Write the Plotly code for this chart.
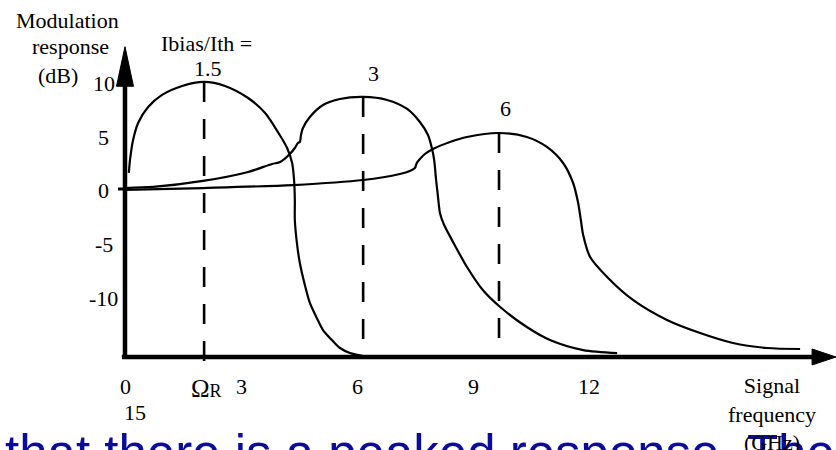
import plotly.graph_objects as go

# ---- curve data: signal frequency (GHz) vs modulation response (dB) ----
# Ibias/Ith = 1.5
freq_15 = [0.10, 0.13, 0.21, 0.34, 0.60, 0.96, 1.48, 2.05, 2.59, 3.19, 3.63, 3.96,
           4.20, 4.33, 4.38, 4.40, 4.40, 4.46, 4.53, 4.66, 4.79, 4.97, 5.13, 5.36,
           5.57, 5.83, 6.17]
resp_15 = [1.50, 2.71, 4.58, 6.17, 7.66, 8.79, 9.63, 10.0, 9.63, 8.50, 7.10, 5.33,
           3.83, 2.43, 0.84, -1.03, -2.90, -5.23, -6.92, -8.97, -10.65, -12.06,
           -13.18, -14.11, -14.86, -15.33, -15.61]

# Ibias/Ith = 3
freq_3 = [0.00, 0.73, 2.02, 3.19, 3.81, 4.02, 4.27, 4.40, 4.48, 4.53, 4.56, 4.61,
          4.79, 5.13, 5.57, 6.17, 6.79, 7.31, 7.64, 7.85, 7.95, 8.01, 8.06, 8.11,
          8.16, 8.26, 8.52, 8.86, 9.27, 9.72, 10.41, 11.01, 11.87, 12.75]
resp_3 = [0.09, 0.19, 0.75, 1.59, 2.34, 2.52, 3.27, 3.83, 4.30, 4.39, 5.05, 5.70,
          6.73, 7.85, 8.41, 8.60, 8.32, 7.48, 6.26, 5.05, 3.83, 2.71, 0.84, -0.75,
          -2.24, -3.30, -5.10, -7.29, -9.44, -11.03, -12.90, -14.11, -15.05, -15.33]

# Ibias/Ith = 6
freq_6 = [0.00, 2.02, 4.35, 6.17, 7.12, 7.38, 7.51, 7.56, 7.64, 7.77, 7.98, 8.42,
          8.86, 9.69, 10.41, 10.93, 11.35, 11.61, 11.74, 11.81, 11.87, 12.05, 12.49,
          13.16, 14.04, 14.90, 15.75, 16.63, 17.49]
resp_6 = [-0.09, 0.09, 0.37, 0.84, 1.40, 1.68, 1.96, 2.43, 2.80, 3.27, 3.74, 4.39,
          4.86, 5.23, 4.86, 3.93, 2.43, 0.56, -1.31, -2.90, -4.30, -6.36, -8.22,
          -10.37, -12.24, -13.46, -14.39, -14.86, -14.95]

curve_labels = ["1.5", "3", "6"]
peak_freq = [2.05, 6.17, 9.69]      # resonance frequencies (dashed markers)
peak_resp = [10.0, 8.60, 5.23]

y_ticks = [10, 5, 0, -5, -10]
y_tick_text = ["10", "5", "0", "-5", "-10"]
x_ticks = [0, 3, 6, 9, 12]
x_tick_text = ["0", "3", "6", "9", "12"]

Y_FLOOR = -15.7        # level where the frequency axis is drawn
X_RANGE = [-3.238, 18.42]
Y_RANGE = [-24.39, 17.66]

SERIF = "Liberation Serif, Times New Roman, serif"
INK = "black"

fig = go.Figure()

# dashed verticals at each resonance peak
for i, (pf, pr) in enumerate(zip(peak_freq, peak_resp)):
    bottom = -16.6 if i == 0 else Y_FLOOR
    fig.add_trace(go.Scatter(x=[pf, pf], y=[pr, bottom], mode="lines",
                             line=dict(color=INK, width=2.6, dash="20px,17px"),
                             hoverinfo="skip", showlegend=False))

# response curves
for fx, ry in [(freq_15, resp_15), (freq_3, resp_3), (freq_6, resp_6)]:
    fig.add_trace(go.Scatter(x=fx, y=ry, mode="lines",
                             line=dict(color=INK, width=2.2, shape="spline", smoothing=0.8),
                             hoverinfo="skip", showlegend=False))

# axes with arrowheads
shapes = [
    dict(type="line", xref="x", yref="y", x0=0, x1=0, y0=Y_FLOOR, y1=10.0,
         line=dict(color=INK, width=4.5)),
    dict(type="line", xref="x", yref="y", x0=-0.08, x1=17.9, y0=Y_FLOOR, y1=Y_FLOOR,
         line=dict(color=INK, width=4.5)),
    dict(type="line", xref="x", yref="y", x0=-0.18, x1=0, y0=0, y1=0,
         line=dict(color=INK, width=3)),
    dict(type="path", xref="x", yref="y",
         path="M -0.22,9.6 L 0,13.3 L 0.22,9.6 Z", fillcolor=INK, line=dict(color=INK, width=1)),
    dict(type="path", xref="x", yref="y",
         path=f"M 17.8,{Y_FLOOR + 0.75} L {X_RANGE[1]},{Y_FLOOR} L 17.8,{Y_FLOOR - 0.75} Z",
         fillcolor=INK, line=dict(color=INK, width=1)),
]

annotations = []

# caption text running along the bottom edge
annotations.append(dict(
    x=X_RANGE[0], y=Y_RANGE[0], xref="x", yref="y", xanchor="left", yanchor="middle",
    text="that there is a peaked response. The", showarrow=False, xshift=3, yshift=-3,
    font=dict(family="Liberation Sans, Arial, sans-serif", size=51, color="#0c0c9c")))

def label(x, y, text, size=22, **kw):
    d = dict(x=x, y=y, xref="x", yref="y", text=text, showarrow=False,
             font=dict(family=SERIF, size=size, color=INK))
    d.update(kw)
    annotations.append(d)

for v, t in zip(y_ticks, y_tick_text):
    label(-0.55, v, t, yshift=-2)
for v, t in zip(x_ticks, x_tick_text):
    label(v, -18.41, t, xshift=1)

label(2.12, -18.6, "<span style='font-size:25px'>Ω</span><span style='font-size:18px'>R</span>")
label(0.26, -20.84, "15")
label(-1.50, 15.79, "Modulation")
label(-1.40, 13.27, "response")
label(-1.74, 10.65, "(dB)")
label(2.12, 13.64, "Ibias/Ith =")
label(16.76, -21.0, "Signal<br>frequency<br>(GHz)")

shifts = [(4, 13), (10, 23), (6, 25)]
for t, pf, pr, (dx, dy) in zip(curve_labels, peak_freq, peak_resp, shifts):
    label(pf, pr, t, xshift=dx, yshift=dy)

fig.update_layout(
    width=836, height=450, autosize=False,
    margin=dict(l=0, r=0, t=0, b=0),
    paper_bgcolor="white", plot_bgcolor="white",
    xaxis=dict(range=X_RANGE, visible=False, fixedrange=True),
    yaxis=dict(range=Y_RANGE, visible=False, fixedrange=True),
    shapes=shapes, annotations=annotations, showlegend=False,
)

fig.write_html("out.html")
